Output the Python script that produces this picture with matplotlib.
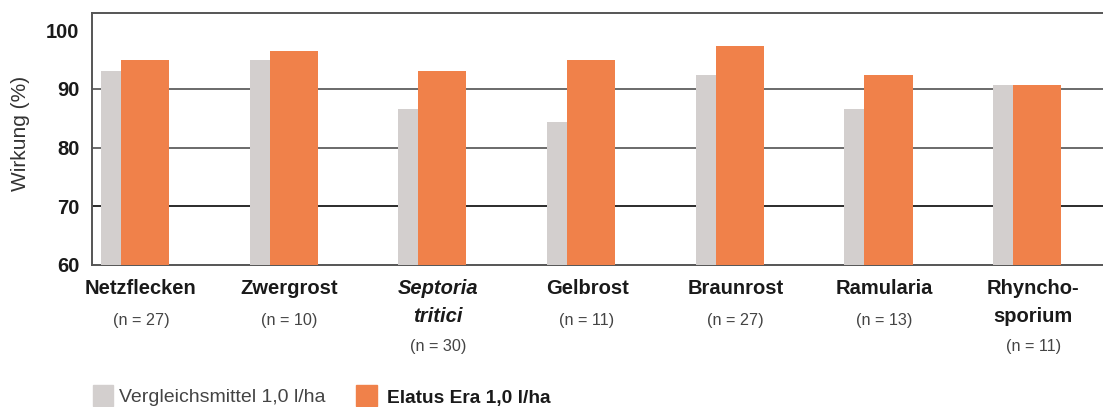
import matplotlib
matplotlib.use("Agg")
import matplotlib.pyplot as plt
import matplotlib.transforms as mtransforms
from matplotlib.patches import Rectangle

# Daten
categories = ["Netzflecken", "Zwergrost", "Septoria\ntritici", "Gelbrost",
              "Braunrost", "Ramularia", "Rhyncho-\nsporium"]
n_labels = ["(n = 27)", "(n = 10)", "(n = 30)", "(n = 11)",
            "(n = 27)", "(n = 13)", "(n = 11)"]
italic_cat = [False, False, True, False, False, False, False]
vergleich = [93.0, 94.9, 86.6, 84.4, 92.4, 86.6, 90.7]
elatus = [94.9, 96.5, 93.0, 94.9, 97.3, 92.4, 90.7]
yticks = [60, 70, 80, 90, 100]

grey = "#d3cfce"
orange = "#f0814a"
text_col = "#1a1a1a"

plt.rcParams["font.family"] = ["Liberation Sans", "DejaVu Sans"]

fig = plt.figure(figsize=(11.03, 4.07), dpi=100)
W, H = 1103, 407
ax = fig.add_axes([92 / W, (H - 265) / H, (W - 92) / W, (265 - 13) / H])

x = list(range(len(categories)))
ax.bar([i - 0.229 for i in x], [v - 60 for v in vergleich], bottom=60,
       width=0.135, align="edge", color=grey, zorder=3)
ax.bar([i - 0.094 for i in x], [v - 60 for v in elatus], bottom=60,
       width=0.323, align="edge", color=orange, zorder=3)

ax.set_xlim(-0.289, 6.51)
ax.set_ylim(60, 102.95)

# Gitterlinien
ax.axhline(90, color="#6a6a6a", lw=1.4, zorder=1)
ax.axhline(80, color="#6a6a6a", lw=1.4, zorder=1)
ax.axhline(70, color="#1a1a1a", lw=1.3, zorder=1)

for s in ["left", "bottom", "top"]:
    ax.spines[s].set_color("#555555")
    ax.spines[s].set_linewidth(1.4)
ax.spines["right"].set_visible(False)

ax.set_xticks([])
ax.set_yticks(yticks)
ax.set_yticklabels([str(t) for t in yticks], fontsize=14.5,
                   fontweight="bold", color=text_col)
ax.tick_params(axis="y", length=0, pad=9)

fig.text(21 / W, 1 - 133 / H, "Wirkung (%)", rotation=90, fontsize=15,
         color="#333333", ha="center", va="center")

# Kategorienbeschriftung
trans = mtransforms.blended_transform_factory(ax.transData, fig.transFigure)
for i, (cat, n, it) in enumerate(zip(categories, n_labels, italic_cat)):
    lines = cat.split("\n")
    for k, line in enumerate(lines):
        ax.text(i + 0.04, 1 - (289 + 28 * k) / H, line, transform=trans,
                ha="center", va="center", fontsize=14.5, fontweight="bold",
                fontstyle="italic" if it else "normal", color=text_col,
                clip_on=False)
    ny = 320 if len(lines) == 1 else 346
    ax.text(i + 0.04, 1 - ny / H, n, transform=trans, ha="center",
            va="center", fontsize=11.7, color="#444444", clip_on=False)

# Legende
fig.patches.append(Rectangle((93 / W, 1 - 406 / H), 20 / W, 21 / H,
                             transform=fig.transFigure, color=grey))
fig.text(119 / W, 1 - 398 / H, "Vergleichsmittel 1,0 l/ha", fontsize=14,
         color="#444444", ha="left", va="center")
fig.patches.append(Rectangle((356 / W, 1 - 406 / H), 21 / W, 21 / H,
                             transform=fig.transFigure, color=orange))
fig.text(387 / W, 1 - 398 / H, "Elatus Era 1,0 l/ha", fontsize=13.8,
         fontweight="bold", color=text_col, ha="left", va="center")

fig.savefig("out.png", dpi=100)
